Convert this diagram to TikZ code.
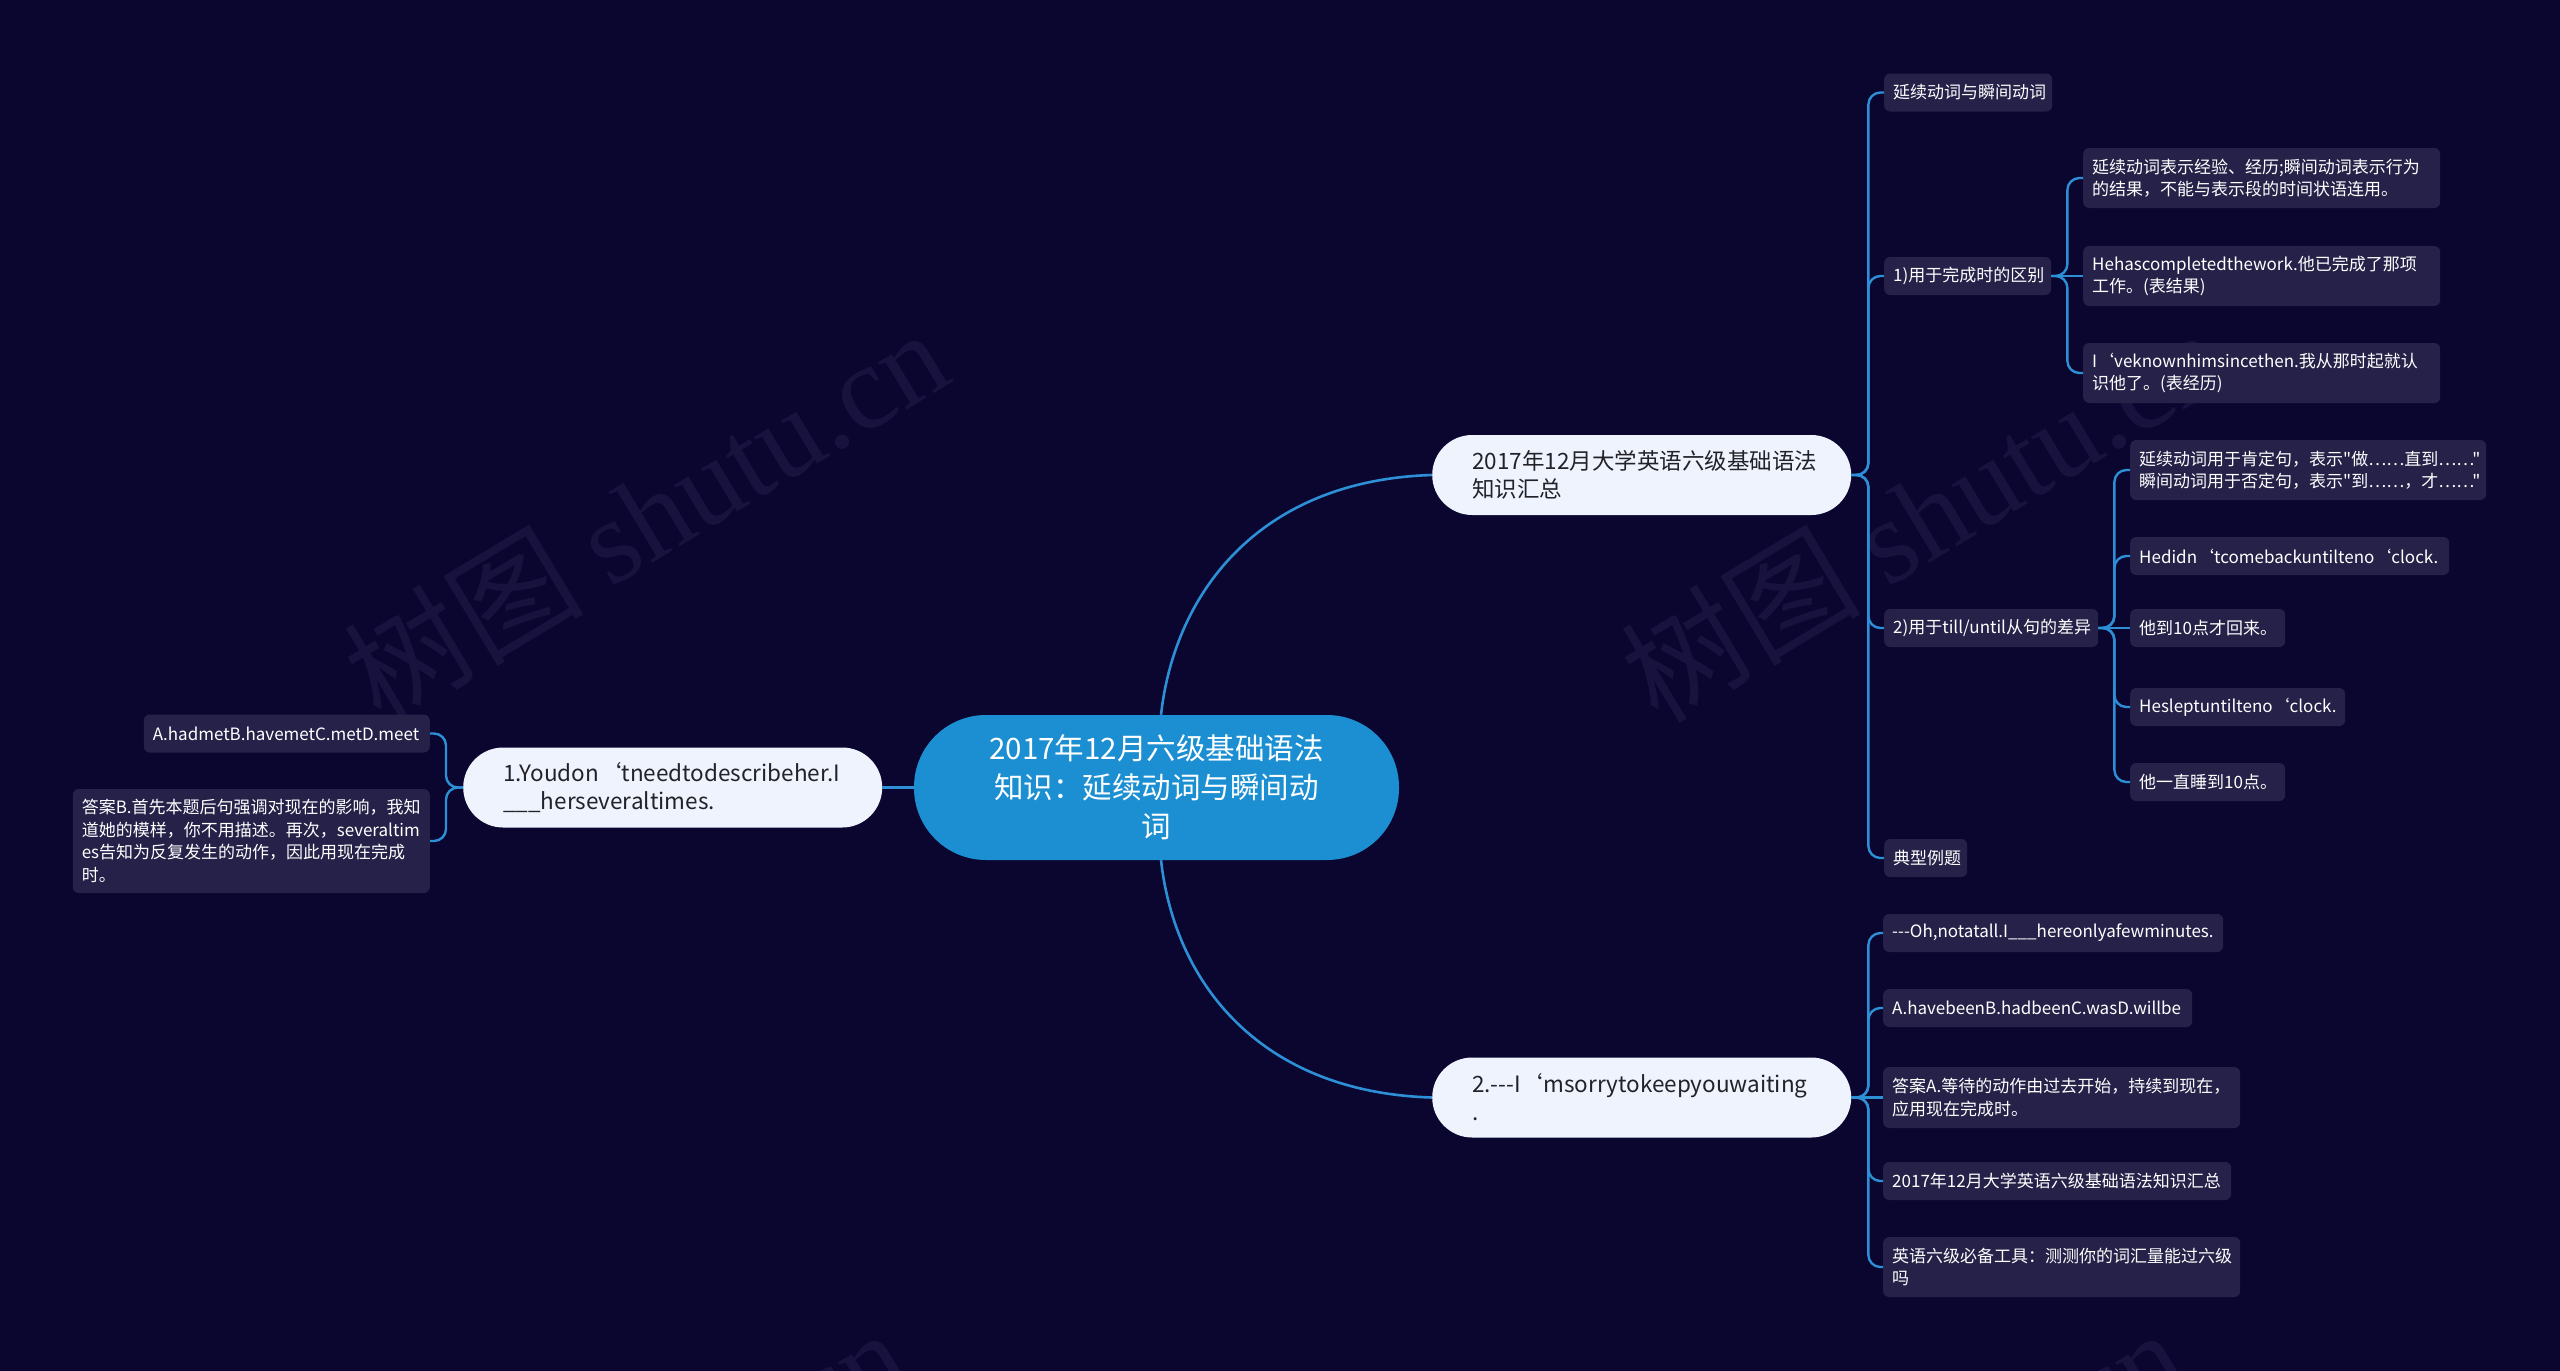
\documentclass[tikz,border=0pt]{standalone}
\usepackage{fontspec}
\setmainfont{Noto Sans CJK SC}
\newfontfamily\nt{Noto Sans CJK SC}
\newfontfamily\wmfont{Liberation Serif}
\usetikzlibrary{calc}
\definecolor{bg}{RGB}{10,6,48}
\definecolor{wmc}{RGB}{23,19,62}
\definecolor{linkc}{RGB}{45,143,213}
\definecolor{rootfill}{RGB}{27,143,210}
\definecolor{pillfill}{RGB}{238,243,253}
\definecolor{pilltext}{RGB}{34,34,40}
\definecolor{leaffill}{RGB}{37,33,72}
\newcommand\myq{‘}
\newcommand\tdash{-\kern0pt-\kern0pt-}
\begin{document}
\begin{tikzpicture}[x=1pt,y=-1pt,
  rootbox/.style={fill=rootfill, text=white, rounded corners=72pt, minimum width=485pt, minimum height=145pt, align=center, inner sep=0pt, font=\nt\fontsize{29.5}{39}\selectfont},
  pillbox/.style={fill=pillfill, text=pilltext, rounded corners=40pt, minimum height=80pt, text width=339pt, align=left, inner xsep=40pt, inner ysep=0pt, font=\nt\fontsize{22.5}{28}\selectfont, anchor=west},
  leafbox/.style={fill=leaffill, text=white, rounded corners=6pt, minimum height=38pt, text width=#1, align=left, inner xsep=9pt, inner ysep=0pt, font=\nt\fontsize{17}{22.5}\selectfont, anchor=west},
  leafboxr/.style={leafbox=#1, anchor=east},
  mainlink/.style={draw=linkc, line width=2.6pt},
  linkline/.style={draw=linkc, line width=2.4pt, rounded corners=12pt},
  wmtext/.style={text=wmc, rotate=31, font=\fontsize{120}{120}\selectfont}
]
\path[use as bounding box] (0,0) rectangle (2560,1371);
\fill[bg] (0,0) rectangle (2560,1371);
\begin{scope}
\clip (0,0) rectangle (2560,1371);
\node[wmtext] (wm1) at (645,514) {树图 {\wmfont shutu.cn}};
\node[wmtext] (wm2) at (1922,514) {树图 {\wmfont shutu.cn}};
\node[wmtext] (wm3) at (605,1514) {树图 {\wmfont shutu.cn}};
\node[wmtext] (wm4) at (1882,1514) {树图 {\wmfont shutu.cn}};
\end{scope}

% root and first level
\node[rootbox] (root) at (1156.5,787.5) {2017年12月六级基础语法\\知识：延续动词与瞬间动\\词};
\node[pillbox] (n1) at (463,787.5) {\mbox{1.Youdon\myq tneedtodescribeher.I}\\\_\_\_herseveraltimes.};
\node[pillbox] (n2) at (1432,475) {2017年12月大学英语六级基础语法\\知识汇总};
\node[pillbox] (n3) at (1432,1097.5) {\mbox{2.\tdash I\myq msorrytokeepyouwaiting}\\.};

% left children
\node[leafboxr=268pt] (e1) at (430,733.5) {A.hadmetB.havemetC.metD.meet};
\node[leafboxr=339pt, minimum height=104pt] (e2) at (430,841) {答案B.首先本题后句强调对现在的影响，我知\\道她的模样，你不用描述。再次，severaltim\\es告知为反复发生的动作，因此用现在完成\\时。};

% n2 children
\node[leafbox=150pt] (a1) at (1884,92.5) {延续动词与瞬间动词};
\node[leafbox=149pt] (a2) at (1884,276) {1)用于完成时的区别};
\node[leafbox=196pt] (a3) at (1884,628) {2)用于till/until从句的差异};
\node[leafbox=65pt] (a4) at (1884,858) {典型例题};

\node[leafbox=339pt, minimum height=60pt] (b1) at (2083,178) {延续动词表示经验、经历;瞬间动词表示行为\\的结果，不能与表示段的时间状语连用。};
\node[leafbox=339pt, minimum height=60pt] (b2) at (2083,276) {Hehascompletedthework.他已完成了那项\\工作。(表结果)};
\node[leafbox=339pt, minimum height=60pt] (b3) at (2083,373) {\mbox{I\myq veknownhimsincethen.我从那时起就认}\\识他了。(表经历)};

\node[leafbox=338pt, minimum height=60pt] (c1) at (2130,470) {延续动词用于肯定句，表示"做……直到……"\\瞬间动词用于否定句，表示"到……，才……"};
\node[leafbox=301pt] (c2) at (2130,556) {\mbox{Hedidn\myq tcomebackuntilteno\myq clock.}};
\node[leafbox=137pt] (c3) at (2130,628) {他到10点才回来。};
\node[leafbox=197pt] (c4) at (2130,707) {\mbox{Hesleptuntilteno\myq clock.}};
\node[leafbox=137pt] (c5) at (2130,782) {他一直睡到10点。};

% n3 children
\node[leafbox=322pt] (d1) at (1883,933) {\mbox{\tdash Oh,notatall.I\_\_\_hereonlyafewminutes.}};
\node[leafbox=291pt] (d2) at (1883,1008) {A.havebeenB.hadbeenC.wasD.willbe};
\node[leafbox=339pt, minimum height=61pt] (d3) at (1883,1097.5) {答案A.等待的动作由过去开始，持续到现在，\\应用现在完成时。};
\node[leafbox=330pt] (d4) at (1883,1181) {2017年12月大学英语六级基础语法知识汇总};
\node[leafbox=339pt, minimum height=60pt] (d5) at (1883,1267) {英语六级必备工具：测测你的词汇量能过六级\\吗};

% junctions
\coordinate (j1) at ($(n1.west)+(-17,0)$);
\coordinate (j2) at ($(n2.east)+(17,0)$);
\coordinate (j3) at ($(n3.east)+(17,0)$);
\coordinate (ja2) at ($(a2.east)+(16,0)$);
\coordinate (ja3) at ($(a3.east)+(16,0)$);
\coordinate (rtop) at ($(root.north)+(4.5,0)$);
\coordinate (rbot) at ($(root.south)+(4.5,0)$);

% main connectors
\draw[mainlink] (rtop) .. controls +(14,-125) and +(-170,5) .. (n2.west);
\draw[mainlink] (rbot) .. controls +(14,125) and +(-170,-5) .. (n3.west);
\draw[mainlink] (root.west) -- (n1.east);

% left bracket
\foreach \t in {e1,e2} \draw[linkline] (n1.west) -- (j1) |- (\t.east);
% n2 bracket
\foreach \t in {a1,a2,a3,a4} \draw[linkline] (n2.east) -- (j2) |- (\t.west);
% a2 bracket
\foreach \t in {b1,b3} \draw[linkline] (a2.east) -- (ja2) |- (\t.west);
\draw[linkline] (a2.east) -- (b2.west);
% a3 bracket
\foreach \t in {c1,c2,c4,c5} \draw[linkline] (a3.east) -- (ja3) |- (\t.west);
\draw[linkline] (a3.east) -- (c3.west);
% n3 bracket
\foreach \t in {d1,d2,d4,d5} \draw[linkline] (n3.east) -- (j3) |- (\t.west);
\draw[linkline] (n3.east) -- (d3.west);
\end{tikzpicture}
\end{document}
